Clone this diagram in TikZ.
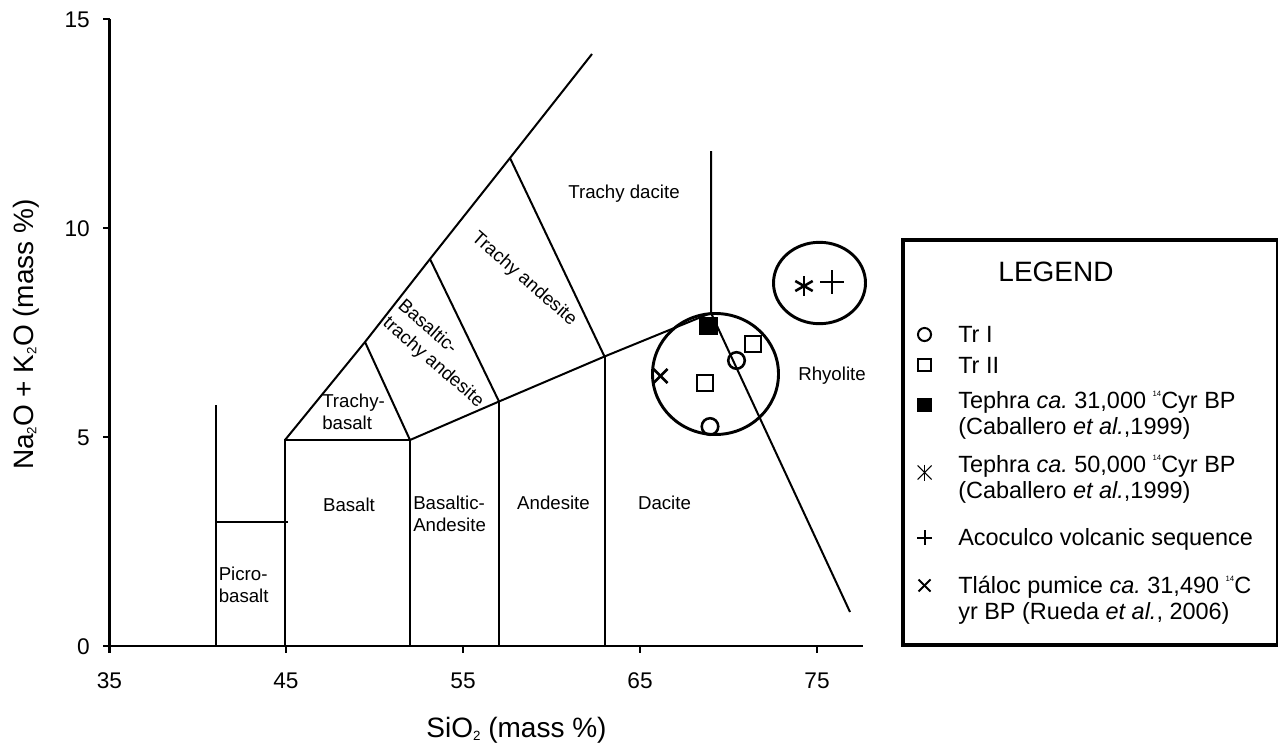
\documentclass[tikz,border=0pt]{standalone}
\usepackage{fontspec}
\setmainfont{Liberation Sans}
\frenchspacing
\newcommand{\sbt}[1]{\raisebox{-0.12em}{\fontsize{#1}{#1}\selectfont 2}}
\newcommand{\cfourteen}{\raisebox{0.49em}{\fontsize{5.8}{6}\selectfont 14}}
\newcommand{\twoln}[2]{\begin{tabular}[t]{@{}l@{}}#1\\#2\end{tabular}}
\begin{document}
\begin{tikzpicture}[x=0.75pt,y=-0.75pt,
  ax/.style={line width=2.2pt},
  tas/.style={line width=1.5pt},
  ring/.style={line width=2.2pt},
  mk/.style={line width=1.9pt},
  lmk/.style={line width=1.5pt},
  thinmk/.style={line width=0.8pt},
  rock/.style={inner sep=0pt, font=\fontsize{14}{17}\selectfont},
  ticklbl/.style={inner sep=0pt, font=\fontsize{17}{20}\selectfont},
  axl/.style={inner sep=0pt, font=\fontsize{21}{25}\selectfont},
  leg/.style={inner sep=0pt, anchor=base west, font=\fontsize{17.6}{20.2}\selectfont},
]
\useasboundingbox (0,0) rectangle (1278,746);

% axes
\coordinate (O) at (109.5,646);
\coordinate (Ytop) at (109.5,19);
\coordinate (Xend) at (863,646);
\draw[ax] (Ytop) -- (O) -- (Xend);
\foreach \yy in {19,228,437,646} \draw[ax] (103,\yy) -- (109.5,\yy);
\foreach \xx in {109.5,286,463,640,817} \draw[ax] (\xx,646) -- (\xx,652.5);

\node[ticklbl, anchor=base east] (y15) at (90,27) {15};
\node[ticklbl, anchor=base east] (y10) at (90,236) {10};
\node[ticklbl, anchor=base east] (y5) at (90,445) {5};
\node[ticklbl, anchor=base east] (y0) at (90,654) {0};
\node[ticklbl, anchor=base] (x35) at (109.5,688) {35};
\node[ticklbl, anchor=base] (x45) at (286,688) {45};
\node[ticklbl, anchor=base] (x55) at (463,688) {55};
\node[ticklbl, anchor=base] (x65) at (640,688) {65};
\node[ticklbl, anchor=base] (x75) at (817,688) {75};

\node[axl, rotate=90, anchor=base] (ylab) at (33,334.5) {Na\sbt{10}O + K\sbt{10}O (mass \%)};
\node[axl, anchor=base] (xlab) at (516.5,737) {SiO\sbt{10} (mass \%)};

% TAS field boundaries
\coordinate (p0) at (216,646);
\coordinate (p1) at (216,405);
\coordinate (p3a) at (216,522);
\coordinate (p3b) at (288,522);
\coordinate (a0) at (285,646);
\coordinate (B) at (285,440);
\coordinate (c0) at (410,646);
\coordinate (D) at (410,440);
\coordinate (e0) at (499,646);
\coordinate (F) at (499,401.5);
\coordinate (g0) at (604.5,646);
\coordinate (H) at (604.5,356.5);
\coordinate (I) at (711,313);
\coordinate (Itop) at (711,151);
\coordinate (R) at (850,612);
\coordinate (J) at (365,342);
\coordinate (K) at (430,259);
\coordinate (L) at (510,158);
\coordinate (T) at (592,54);

\draw[tas] (p0) -- (p1);
\draw[tas] (p3a) -- (p3b);
\draw[tas] (a0) -- (B) -- (D);
\draw[tas] (c0) -- (D);
\draw[tas] (D) -- (F) -- (H) -- (I);
\draw[tas] (e0) -- (F);
\draw[tas] (g0) -- (H);
\draw[tas] (Itop) -- (I) -- (R);
\draw[tas] (B) -- (J) -- (K) -- (L) -- (T);
\draw[tas] (J) -- (D);
\draw[tas] (K) -- (F);
\draw[tas] (L) -- (H);

% field labels
\node[rock, anchor=base west] (pb) at (218.5,580) {\twoln{Picro-}{basalt}};
\node[rock, anchor=base] (bas) at (349,511) {Basalt};
\node[rock, anchor=base west] (tb) at (322,407) {\twoln{Trachy-}{basalt}};
\node[rock, anchor=base west] (ba) at (413,509) {\twoln{Basaltic-}{Andesite}};
\node[rock, anchor=base] (and) at (553.5,509) {Andesite};
\node[rock, anchor=base] (dac) at (664.5,509) {Dacite};
\node[rock, anchor=base] (rhy) at (832,380) {Rhyolite};
\node[rock, anchor=base] (tdac) at (624,198) {Trachy dacite};
\node[rock, anchor=base, rotate=-41] (tand) at (520.8,282.7) {Trachy andesite};
\node[rock, anchor=base west, rotate=-41] (bta) at (396.9,307.5) {\twoln{Basaltic-}{trachy andesite}};

% grouping rings
\draw[ring] (715.5,374) ellipse [x radius=63, y radius=60.5];
\draw[ring] (819.5,283) ellipse [x radius=46, y radius=40.7];

% data points
\node[draw, mk, fill=black, minimum width=12.4pt, minimum height=12pt, inner sep=0pt] (tephA) at (708.5,326) {};
\node[draw, mk, minimum size=12pt, inner sep=0pt] (tr2a) at (753,344) {};
\node[draw, mk, minimum size=12pt, inner sep=0pt] (tr2b) at (705,383) {};
\node[draw, mk, circle, minimum size=12.4pt, inner sep=0pt] (tr1a) at (736.5,360.5) {};
\node[draw, mk, circle, minimum size=12.4pt, inner sep=0pt] (tr1b) at (710,426.5) {};
\coordinate (tlal) at (660.5,376);
\draw[mk] (tlal) ++(-7,-7) -- ++(14,14);
\draw[mk] (tlal) ++(-7,7) -- ++(14,-14);
\coordinate (tephB) at (804,286);
\draw[mk] (tephB) ++(0,-10) -- ++(0,20);
\draw[mk] (tephB) ++(-8.7,-5) -- ++(17.4,10);
\draw[mk] (tephB) ++(-8.7,5) -- ++(17.4,-10);
\coordinate (acoc) at (832,282);
\draw[line width=2.2pt] (acoc) ++(-12,0) -- ++(24,0);
\draw[line width=2.2pt] (acoc) ++(0,-12) -- ++(0,24);

% legend
\draw[line width=2.4pt] (903,240) rectangle (1278,645);
\node[inner sep=0pt, anchor=base, font=\fontsize{21}{25}\selectfont] (legt) at (1056,281.5) {LEGEND};

\node[draw, lmk, circle, minimum size=9.8pt, inner sep=0pt] (m1) at (924.5,334.5) {};
\node[draw, lmk, minimum size=9.5pt, inner sep=0pt] (m2) at (924.5,365) {};
\node[draw, lmk, fill=black, minimum size=9.5pt, inner sep=0pt] (m3) at (924.5,405) {};
\coordinate (m4) at (924.5,472.5);
\draw[thinmk] (m4) ++(0,-8) -- ++(0,16);
\draw[thinmk] (m4) ++(-7,-7) -- ++(14,14);
\draw[thinmk] (m4) ++(-7,7) -- ++(14,-14);
\coordinate (m5) at (924.5,537.5);
\draw[lmk] (m5) ++(-7.5,0) -- ++(15,0);
\draw[lmk] (m5) ++(0,-7.5) -- ++(0,15);
\coordinate (m6) at (924.5,585.5);
\draw[lmk] (m6) ++(-6,-6) -- ++(12,12);
\draw[lmk] (m6) ++(-6,6) -- ++(12,-12);

\node[leg] (l1) at (958,342) {Tr I};
\node[leg] (l2) at (958,373) {Tr II};
\node[leg] (l3) at (958,408) {\twoln{Tephra \textit{ca.} 31,000 \cfourteen Cyr BP}{(Caballero \textit{et al.},1999)}};
\node[leg] (l4) at (958,472) {\twoln{Tephra \textit{ca.} 50,000 \cfourteen Cyr BP}{(Caballero \textit{et al.},1999)}};
\node[leg] (l5) at (958,545) {Acoculco volcanic sequence};
\node[leg] (l6) at (958,593) {\twoln{Tláloc pumice \textit{ca.} 31,490 \cfourteen C}{yr BP (Rueda \textit{et al.}, 2006)}};
\end{tikzpicture}
\end{document}
